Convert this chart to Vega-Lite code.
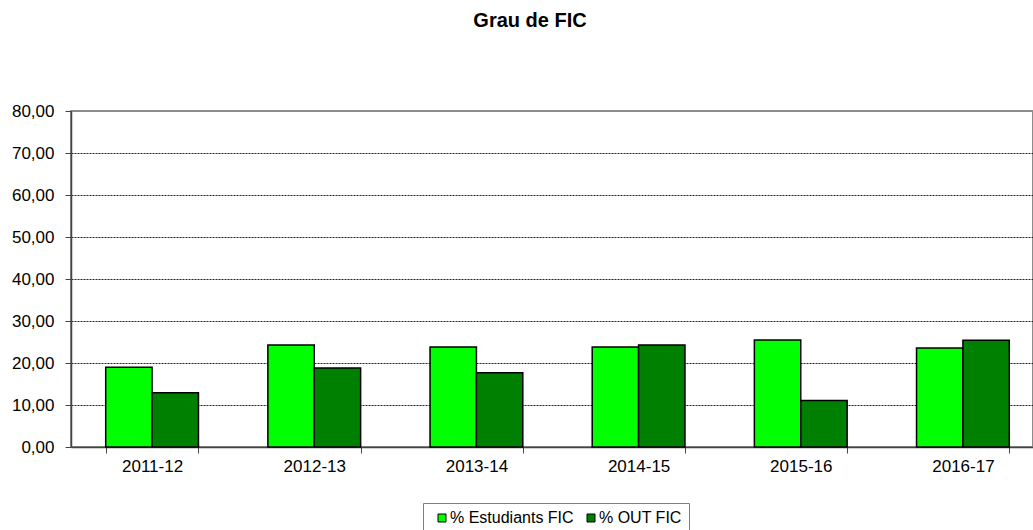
{
  "$schema": "https://vega.github.io/schema/vega-lite/v6.json",
  "width": 962,
  "height": 336,
  "autosize": {"type": "none"},
  "padding": {"left": 71, "top": 111, "right": 0, "bottom": 83},
  "background": "white",
  "config": {
    "font": "Liberation Sans",
    "view": {"stroke": "#8c8c8c", "strokeWidth": 2}
  },
  "title": {
    "text": "Grau de FIC",
    "fontSize": 20,
    "fontWeight": "bold",
    "font": "Liberation Sans",
    "color": "black",
    "anchor": "middle",
    "dx": -22,
    "offset": 71
  },
  "data": {
    "values": [
      {"curs": "2011-12", "serie": "% Estudiants FIC", "valor": 19.0},
      {"curs": "2011-12", "serie": "% OUT FIC", "valor": 12.9},
      {"curs": "2012-13", "serie": "% Estudiants FIC", "valor": 24.3},
      {"curs": "2012-13", "serie": "% OUT FIC", "valor": 18.8},
      {"curs": "2013-14", "serie": "% Estudiants FIC", "valor": 23.8},
      {"curs": "2013-14", "serie": "% OUT FIC", "valor": 17.7},
      {"curs": "2014-15", "serie": "% Estudiants FIC", "valor": 23.8},
      {"curs": "2014-15", "serie": "% OUT FIC", "valor": 24.3},
      {"curs": "2015-16", "serie": "% Estudiants FIC", "valor": 25.5},
      {"curs": "2015-16", "serie": "% OUT FIC", "valor": 11.1},
      {"curs": "2016-17", "serie": "% Estudiants FIC", "valor": 23.6},
      {"curs": "2016-17", "serie": "% OUT FIC", "valor": 25.4}
    ]
  },
  "mark": {"type": "bar", "stroke": "black", "strokeWidth": 1.5},
  "encoding": {
    "x": {
      "field": "curs",
      "type": "nominal",
      "sort": null,
      "scale": {"range": [0, 973], "paddingInner": 0.428, "paddingOuter": 0.214},
      "axis": {
        "title": null,
        "labelAngle": 0,
        "labelFontSize": 17,
        "labelColor": "black",
        "labelPadding": 5,
        "tickBand": "extent",
        "tickSize": 6,
        "tickColor": "#444",
        "domainColor": "#444",
        "domainWidth": 1.5
      }
    },
    "xOffset": {
      "field": "serie",
      "type": "nominal",
      "sort": ["% Estudiants FIC", "% OUT FIC"],
      "scale": {"paddingInner": 0, "paddingOuter": 0}
    },
    "y": {
      "field": "valor",
      "type": "quantitative",
      "scale": {"domain": [0, 80], "nice": false},
      "axis": {
        "title": null,
        "values": [0, 10, 20, 30, 40, 50, 60, 70, 80],
        "labelExpr": "replace(format(datum.value, '.2f'), '.', ',')",
        "labelFontSize": 17,
        "labelColor": "black",
        "labelPadding": 11,
        "tickSize": 6,
        "tickColor": "#444",
        "domainColor": "#444",
        "domainWidth": 1.5,
        "grid": true,
        "gridColor": "#222",
        "gridDash": [2, 1],
        "gridWidth": 1,
        "gridOpacity": {"condition": {"test": "datum.value === 80 || datum.value === 0", "value": 0}, "value": 1}
      }
    },
    "color": {
      "field": "serie",
      "type": "nominal",
      "scale": {"domain": ["% Estudiants FIC", "% OUT FIC"], "range": ["#00FF00", "#008000"]},
      "legend": {
        "orient": "none",
        "legendX": 352,
        "legendY": 392,
        "direction": "horizontal",
        "title": null,
        "strokeColor": "#808080",
        "fillColor": "white",
        "padding": 7,
        "symbolType": "square",
        "symbolSize": 64,
        "symbolStrokeColor": "black",
        "symbolStrokeWidth": 1,
        "labelFontSize": 16,
        "labelFont": "Liberation Sans",
        "labelColor": "black",
        "labelOffset": 0,
        "columnPadding": 5,
        "symbolOffset": 4
      }
    }
  }
}
